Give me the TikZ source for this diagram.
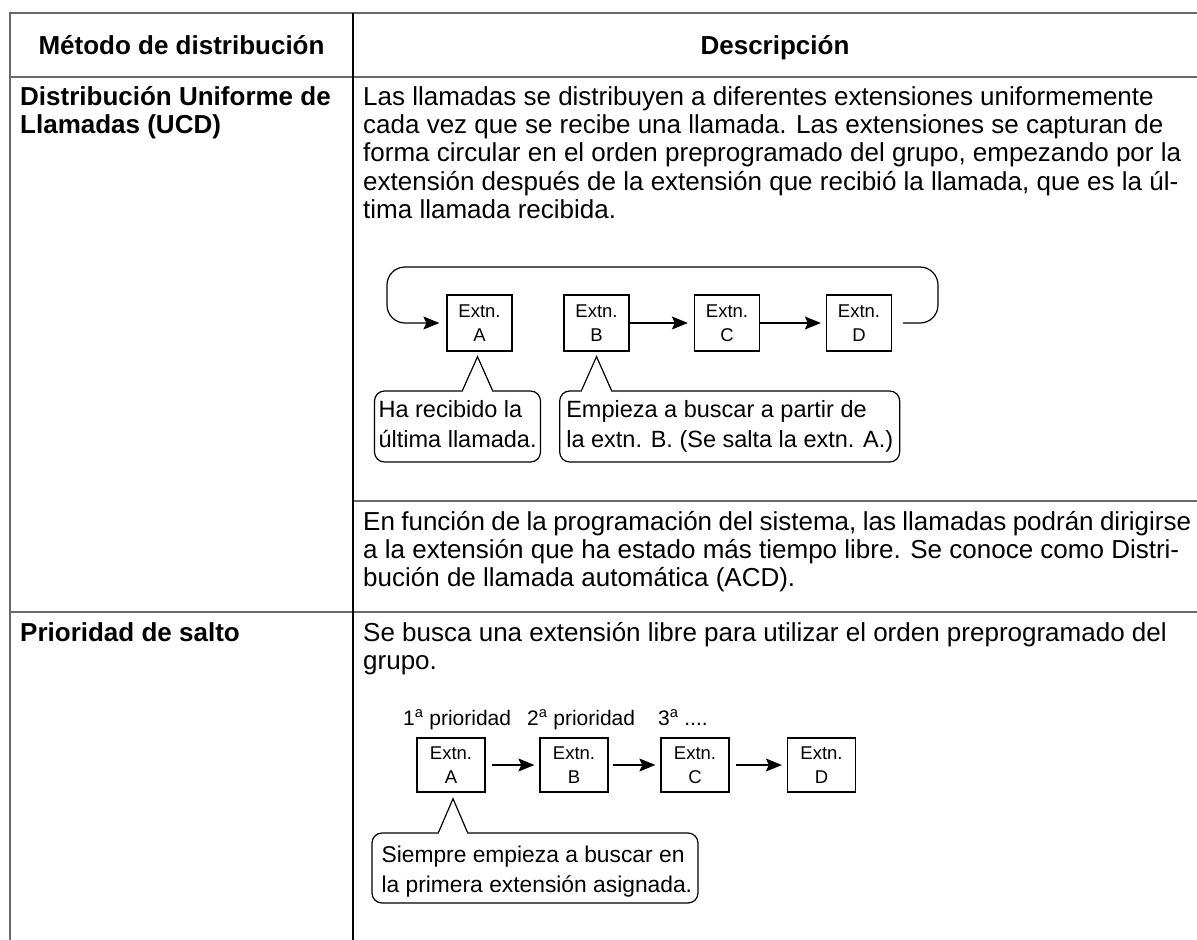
\documentclass[tikz,border=0pt]{standalone}
\usepackage{fontspec}
\setmainfont{Liberation Sans}
\usetikzlibrary{arrows.meta,calc}
\definecolor{tablegray}{RGB}{105,105,105}
\tikzset{
  tline/.style={draw=tablegray, line width=1.6bp},
  divline/.style={draw=black, line width=1.1bp},
  body/.style={inner sep=0pt, anchor=base west, font=\fontsize{26bp}{28.4bp}\selectfont},
  bodybold/.style={inner sep=0pt, anchor=base west, font=\fontsize{26bp}{28.4bp}\selectfont\bfseries},
  hdr/.style={inner sep=0pt, anchor=base, font=\fontsize{26bp}{30bp}\selectfont\bfseries},
  ext/.style={draw, line width=1.3bp, align=center, inner sep=0pt, font=\fontsize{18.5bp}{24bp}\selectfont},
  arr/.style={-{Stealth[length=16bp,width=13bp,inset=3bp]}, line width=1.2bp},
  callout/.style={draw, line width=1.2bp, rounded corners=10bp, inner sep=0pt},
  ctext/.style={inner sep=0pt, anchor=base west, font=\fontsize{23.5bp}{30bp}\selectfont},
  ctextsmall/.style={inner sep=0pt, anchor=base west, font=\fontsize{22.8bp}{30bp}\selectfont},
  plabel/.style={inner sep=0pt, anchor=base west, font=\fontsize{21bp}{24bp}\selectfont},
  pointer/.style={line width=1.2bp, line join=miter},
}
\begin{document}
\begin{tikzpicture}[x=1bp,y=-1bp]
\useasboundingbox (0,0) rectangle (1197,940);
\fill[white] (0,0) rectangle (1197,940);

% table rules
\draw[tline] (1197,13) -- (10,13) -- (10,940);
\draw[tline] (10,77) -- (1197,77);
\draw[tline] (353,501) -- (1197,501);
\draw[tline] (10,612) -- (1197,612);
\draw[divline] (353,13) -- (353,940);

% header
\node[hdr] (hMetodo) at (181.5,54) {Método de distribución};
\node[hdr] (hDesc) at (775,54) {Descripción};

% UCD row
\node[bodybold] (mU1) at (20,105) {Distribución Uniforme de};
\node[bodybold] (mU2) at (20,133.4) {Llamadas (UCD)};

\node[body] (u1) at (363,105) {Las llamadas se distribuyen a diferentes extensiones uniformemente};
\node[body] (u2) at (363,133.4) {cada vez que se recibe una llamada. Las extensiones se capturan de};
\node[body] (u3) at (363,161.8) {forma circular en el orden preprogramado del grupo, empezando por la};
\node[body] (u4) at (363,190.2) {extensión después de la extensión que recibió la llamada, que es la úl-};
\node[body] (u5) at (363,218.6) {tima llamada recibida.};

% UCD diagram
\node[ext, minimum width=65bp, minimum height=56bp] (uA) at (479.5,323) {Extn.\\A};
\node[ext, minimum width=65bp, minimum height=56bp] (uB) at (596.5,323) {Extn.\\B};
\node[ext, minimum width=65bp, minimum height=56bp] (uC) at (727,323) {Extn.\\C};
\node[ext, minimum width=65bp, minimum height=56bp] (uD) at (859,323) {Extn.\\D};

\coordinate (loopStart) at ($(uD.east)+(11,0)$);
\draw[arr, rounded corners=18bp] (loopStart) -| (938,267) -| (387,323) -- ([xshift=-7bp]uA.west);
\draw[arr, shorten >=6bp] (uB) -- (uC);
\draw[arr, shorten >=5bp] (uC) -- (uD);

\node[callout, minimum width=166bp, minimum height=71bp] (cA) at (457.5,426.5) {};
\node[ctext] (cA1) at ($(cA.north west)+(4.5,27.5)$) {Ha recibido la};
\node[ctext] (cA2) at ($(cA.north west)+(4.5,57.5)$) {última llamada.};

\node[callout, minimum width=340bp, minimum height=71bp] (cB) at (729.7,426.5) {};
\node[ctext] (cB1) at ($(cB.north west)+(7,27.5)$) {Empieza a buscar a partir de};
\node[ctext] (cB2) at ($(cB.north west)+(7,57.5)$) {la extn. B. (Se salta la extn. A.)};

\coordinate (tA) at ($(uA.south)+(-2,5)$);
\coordinate (bAl) at ($(tA |- cA.north)+(-15,0)$);
\coordinate (bAr) at ($(tA |- cA.north)+(15,0)$);
\fill[white] ($(bAl)+(0.9,-1.5)$) rectangle ($(bAr)+(-0.9,1.5)$);
\draw[pointer] (bAl) -- (tA) -- (bAr);

\coordinate (tB) at ($(uB.south)+(0,5)$);
\coordinate (bBl) at ($(tB |- cB.north)+(-15,0)$);
\coordinate (bBr) at ($(tB |- cB.north)+(15,0)$);
\fill[white] ($(bBl)+(0.9,-1.5)$) rectangle ($(bBr)+(-0.9,1.5)$);
\draw[pointer] (bBl) -- (tB) -- (bBr);

% ACD text
\node[body] (a1) at (363,530) {\makebox[828bp][s]{En función de la programación del sistema, las llamadas podrán dirigirse}};
\node[body] (a2) at (363,558.4) {a la extensión que ha estado más tiempo libre. Se conoce como Distri-};
\node[body] (a3) at (363,586.8) {bución de llamada automática (ACD).};

% Prioridad row
\node[bodybold] (mP1) at (20,641) {Prioridad de salto};
\node[body] (p1) at (363,641) {Se busca una extensión libre para utilizar el orden preprogramado del};
\node[body] (p2) at (363,669.4) {grupo.};

\node[plabel] (l1) at (403,725) {1\textsuperscript{a} prioridad};
\node[plabel] (l2) at (527,725) {2\textsuperscript{a} prioridad};
\node[plabel] (l3) at (658,725) {3\textsuperscript{a} ....};

\node[ext, minimum width=68bp, minimum height=54bp] (pA) at (451,765) {Extn.\\A};
\node[ext, minimum width=68bp, minimum height=54bp] (pB) at (574,765) {Extn.\\B};
\node[ext, minimum width=68bp, minimum height=54bp] (pC) at (695,765) {Extn.\\C};
\node[ext, minimum width=68bp, minimum height=54bp] (pD) at (821.5,765) {Extn.\\D};

\draw[arr, shorten <=6bp, shorten >=5bp] (pA) -- (pB);
\draw[arr, shorten <=4bp, shorten >=5bp] (pB) -- (pC);
\draw[arr, shorten <=6bp, shorten >=5bp] (pC) -- (pD);

\node[callout, minimum width=326bp, minimum height=70bp] (cP) at (535,868) {};
\node[ctextsmall] (cP1) at ($(cP.north west)+(10,30)$) {Siempre empieza a buscar en};
\node[ctextsmall] (cP2) at ($(cP.north west)+(10,60)$) {la primera extensión asignada.};

\coordinate (tP) at ($(pA.south)+(2,6)$);
\coordinate (bPl) at ($(tP |- cP.north)+(-14.5,0)$);
\coordinate (bPr) at ($(tP |- cP.north)+(14.5,0)$);
\fill[white] ($(bPl)+(0.9,-1.5)$) rectangle ($(bPr)+(-0.9,1.5)$);
\draw[pointer] (bPl) -- (tP) -- (bPr);
\end{tikzpicture}
\end{document}
